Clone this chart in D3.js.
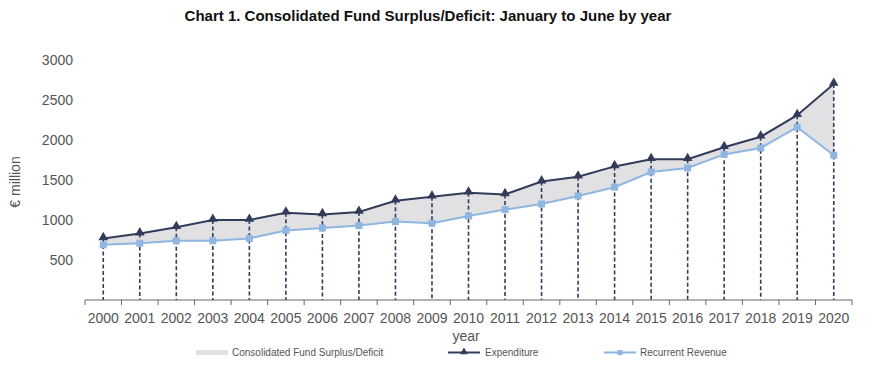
<!DOCTYPE html>
<html><head><meta charset="utf-8">
<script src="https://cdn.jsdelivr.net/npm/d3@7"></script>
<style>body{margin:0;background:#fff;font-family:"Liberation Sans",Arial,sans-serif;}</style>
</head><body><svg id="c" width="888" height="367"></svg>
<script>
const years = ["2000","2001","2002","2003","2004","2005","2006","2007","2008","2009","2010","2011","2012","2013","2014","2015","2016","2017","2018","2019","2020"];
const expenditure = [770,830,910,1000,1000,1090,1070,1100,1240,1290,1340,1320,1480,1540,1670,1760,1760,1910,2040,2310,2700];
const revenue = [690,710,740,740,770,870,900,930,980,960,1050,1130,1200,1300,1410,1600,1650,1820,1900,2160,1810];
const yTicks = [500,1000,1500,2000,2500,3000];
const title = "Chart 1. Consolidated Fund Surplus/Deficit: January to June by year";

const svg = d3.select("#c");
const x = d3.scaleBand().domain(years).range([85,852]).padding(0);
const y = d3.scaleLinear().domain([0,3000]).range([300,60]);
const cx = d => x(d) + x.bandwidth()/2;
const navy = "#323b5a", light = "#8fb6e0", grey = "#e1e1e3", txt = "#555";

svg.append("text").attr("x",428).attr("y",21).attr("text-anchor","middle")
  .attr("font-size",15).attr("font-weight","bold").attr("fill","#111").text(title);

// y tick labels
svg.append("g").selectAll("text").data(yTicks).join("text")
  .attr("x",73).attr("y",d=>y(d)+5).attr("text-anchor","end")
  .attr("font-size",14).attr("fill",txt).text(d=>d);
svg.append("text").attr("transform","translate(20,182) rotate(-90)")
  .attr("text-anchor","middle").attr("font-size",14).attr("fill",txt).text("€ million");

// area
const data = years.map((yr,i)=>({yr,e:expenditure[i],r:revenue[i]}));
svg.append("path").datum(data)
  .attr("d", d3.area().x(d=>cx(d.yr)).y0(d=>y(d.r)).y1(d=>y(d.e)))
  .attr("fill",grey);

// dashed drop lines
svg.append("g").selectAll("line").data(data).join("line")
  .attr("x1",d=>cx(d.yr)).attr("x2",d=>cx(d.yr))
  .attr("y1",d=>y(d.e)).attr("y2",y(0))
  .attr("stroke",navy).attr("stroke-width",1.6).attr("stroke-dasharray","4,2.5");

// x axis
const xa = svg.append("g").attr("transform",`translate(0,${y(0)})`);
xa.append("line").attr("x1",85).attr("x2",852).attr("stroke","#666").attr("stroke-width",1);
const bounds = years.map(d=>x(d)).concat([852]);
xa.selectAll("line.t").data(bounds).join("line").attr("class","t")
  .attr("x1",d=>d).attr("x2",d=>d).attr("y1",0).attr("y2",5).attr("stroke","#666");
xa.selectAll("text").data(years).join("text")
  .attr("x",d=>cx(d)).attr("y",22.5).attr("text-anchor","middle")
  .attr("font-size",14).attr("fill",txt).text(d=>d);
svg.append("text").attr("x",466).attr("y",341).attr("text-anchor","middle")
  .attr("font-size",14).attr("fill",txt).text("year");

// revenue line
svg.append("path").datum(data)
  .attr("d",d3.line().x(d=>cx(d.yr)).y(d=>y(d.r)))
  .attr("fill","none").attr("stroke",light).attr("stroke-width",2);
svg.append("g").selectAll("rect").data(data).join("rect")
  .attr("x",d=>cx(d.yr)-3.5).attr("y",d=>y(d.r)-3.5).attr("width",7).attr("height",7)
  .attr("fill",light);

// expenditure line
svg.append("path").datum(data)
  .attr("d",d3.line().x(d=>cx(d.yr)).y(d=>y(d.e)))
  .attr("fill","none").attr("stroke",navy).attr("stroke-width",2);
const tri = d3.symbol().type(d3.symbolTriangle).size(40);
svg.append("g").selectAll("path").data(data).join("path")
  .attr("transform",d=>`translate(${cx(d.yr)},${y(d.e)-1})`).attr("d",tri).attr("fill",navy);

// legend
const lg = svg.append("g").attr("font-size",10).attr("fill",txt);
lg.append("rect").attr("x",196).attr("y",350).attr("width",32).attr("height",5).attr("fill",grey);
lg.append("text").attr("x",232).attr("y",356).text("Consolidated Fund Surplus/Deficit");
lg.append("line").attr("x1",448).attr("x2",480).attr("y1",352.5).attr("y2",352.5).attr("stroke",navy).attr("stroke-width",2);
lg.append("path").attr("transform","translate(464,352)").attr("d",d3.symbol().type(d3.symbolTriangle).size(25)).attr("fill",navy);
lg.append("text").attr("x",485).attr("y",356).text("Expenditure");
lg.append("line").attr("x1",604).attr("x2",636).attr("y1",352.5).attr("y2",352.5).attr("stroke",light).attr("stroke-width",2);
lg.append("rect").attr("x",617.5).attr("y",350).attr("width",5).attr("height",5).attr("fill",light);
lg.append("text").attr("x",640).attr("y",356).text("Recurrent Revenue");
</script></body></html>
